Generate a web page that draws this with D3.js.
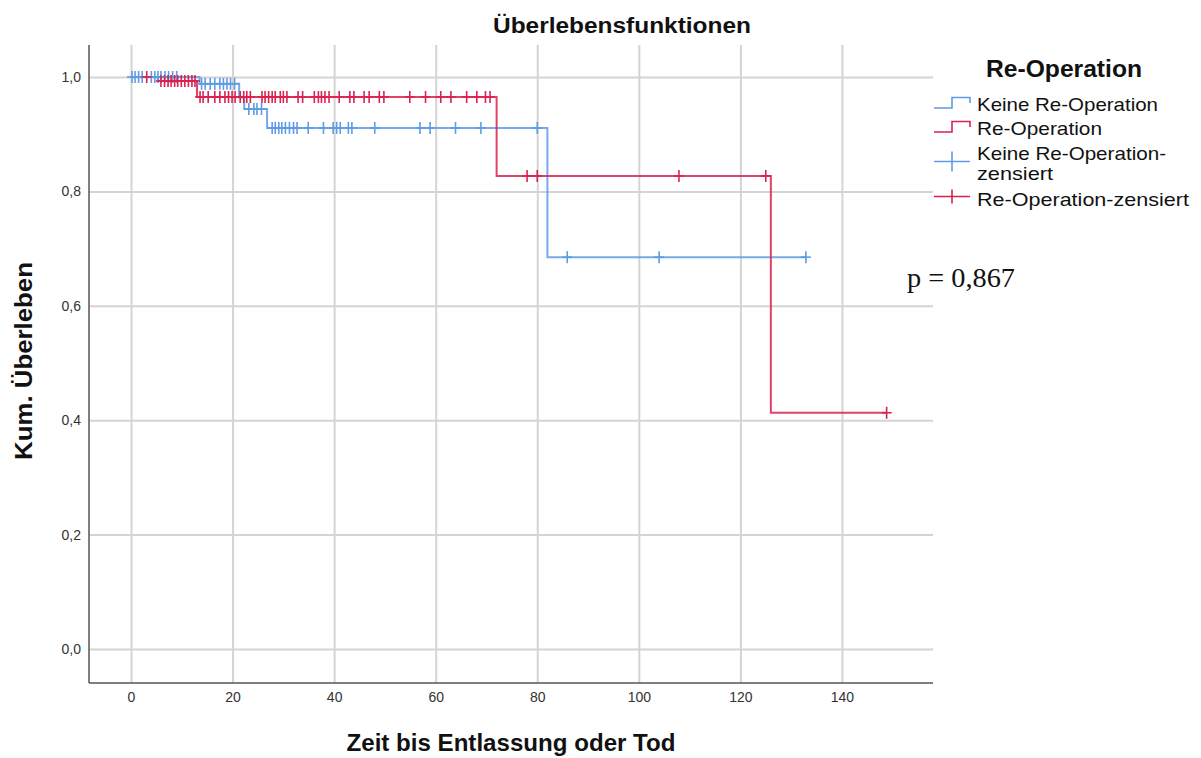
<!DOCTYPE html>
<html>
<head>
<meta charset="utf-8">
<script src="https://cdn.jsdelivr.net/npm/d3@7"></script>
<style>
  html, body { margin: 0; padding: 0; background: #fff; }
  svg { display: block; font-family: "Liberation Sans", Arial, sans-serif; }
</style>
</head>
<body>
<svg id="chart" width="1201" height="758"></svg>
<script>
// Kaplan-Meier step functions: time of each step and the survival level from that time on
const groups = ["Keine Re-Operation", "Re-Operation"];

const blueStepTimes = [0, 13.5, 21.3, 22.3, 26.8, 82.0];
const blueStepSurv  = [1.0, 0.988, 0.964, 0.944, 0.911, 0.685];
const blueCensored  = [0.2, 0.8, 1.5, 2.2, 4.0, 4.7, 5.3, 5.9, 6.7, 7.4, 8.2, 9.0,
                       13.9, 14.6, 15.6, 16.5, 17.5, 18.2, 18.9, 19.6, 20.4,
                       23.2, 24.2, 24.8, 25.7,
                       27.8, 28.4, 29.1, 29.7, 30.4, 31.2, 32.0, 32.7, 34.9, 37.9, 39.8,
                       40.5, 41.2, 42.8, 43.5, 48.0, 56.9, 58.9, 63.9, 68.9, 80.0,
                       85.9, 104.0, 132.9];

const redStepTimes = [0, 5.3, 13.0, 72.0, 126.0];
const redStepSurv  = [1.0, 0.993, 0.965, 0.827, 0.413];
const redCensored  = [3.1,
                      5.9, 6.6, 7.3, 7.9, 8.6, 9.2, 9.9, 10.6, 11.3, 12.0, 12.6,
                      13.6, 14.2, 15.2, 16.5, 17.5, 18.5, 19.2, 19.9, 20.5, 21.5, 22.2,
                      22.8, 23.5, 25.8, 26.4, 27.1, 27.8, 28.4, 29.4, 30.0, 30.7, 32.9,
                      33.8, 36.1, 36.9, 37.5, 38.2, 39.0, 41.0, 43.1, 43.9, 45.9, 46.9,
                      48.9, 49.8, 54.9, 58.0, 61.0, 63.0, 66.1, 68.1, 69.8, 70.7,
                      78.0, 80.0, 107.9, 125.0, 148.8];

const xTicks = [0, 20, 40, 60, 80, 100, 120, 140];
const yTicks = [0, 0.2, 0.4, 0.6, 0.8, 1.0];
const legendLabels = ["Keine Re-Operation", "Re-Operation", "Keine Re-Operation-zensiert", "Re-Operation-zensiert"];

const BLUE = "#5f9be6";
const RED = "#d9224f";

const svg = d3.select("#chart");
const plot = { left: 89, right: 933, top: 45, bottom: 683 };

const x = d3.scaleLinear().domain([-8.27, 157.93]).range([plot.left, plot.right]);
const y = d3.scaleLinear().domain([-0.0594, 1.0559]).range([plot.bottom, plot.top]);

const de = d3.formatLocale({ decimal: ",", thousands: ".", grouping: [3], currency: ["", " €"] });
const fmtY = de.format(".1f");

// grid lines
const gridColor = "#d4d4d4";
const gx = svg.append("g")
  .attr("transform", `translate(0,${plot.bottom})`)
  .call(d3.axisBottom(x).tickValues(xTicks).tickSize(-(plot.bottom - plot.top)).tickFormat(""));
gx.select(".domain").remove();
gx.selectAll("line").attr("stroke", gridColor).attr("stroke-width", 2);

const gy = svg.append("g")
  .attr("transform", `translate(${plot.left},0)`)
  .call(d3.axisLeft(y).tickValues(yTicks).tickSize(-(plot.right - plot.left)).tickFormat(""));
gy.select(".domain").remove();
gy.selectAll("line").attr("stroke", gridColor).attr("stroke-width", 2);

// axes with labels
const ax = svg.append("g")
  .attr("transform", `translate(0,${plot.bottom})`)
  .call(d3.axisBottom(x).tickValues(xTicks).tickSize(0).tickPadding(9).tickFormat(d3.format("d")));
ax.select(".domain").remove();
ax.selectAll("text").attr("font-size", 14).attr("fill", "#333")
  .attr("font-family", "'Liberation Sans', Arial, sans-serif");

const ay = svg.append("g")
  .attr("transform", `translate(${plot.left},0)`)
  .call(d3.axisLeft(y).tickValues(yTicks).tickSize(0).tickPadding(8).tickFormat(fmtY));
ay.select(".domain").remove();
ay.selectAll("text").attr("font-size", 14).attr("fill", "#333")
  .attr("font-family", "'Liberation Sans', Arial, sans-serif");

// axis lines
svg.append("line").attr("x1", plot.left).attr("x2", plot.left)
  .attr("y1", plot.top).attr("y2", plot.bottom)
  .attr("stroke", "#555").attr("stroke-width", 1.5);
svg.append("line").attr("x1", plot.left).attr("x2", plot.right)
  .attr("y1", plot.bottom).attr("y2", plot.bottom)
  .attr("stroke", "#555").attr("stroke-width", 1.5);

// survival curves
function survAt(times, surv, t) {
  let s = surv[0];
  for (let i = 0; i < times.length; i++) if (t >= times[i]) s = surv[i];
  return s;
}
function stepPoints(times, surv, tEnd) {
  const pts = times.map((t, i) => [t, surv[i]]);
  pts.push([tEnd, surv[surv.length - 1]]);
  return pts;
}
const stepLine = d3.line().x(d => x(d[0])).y(d => y(d[1])).curve(d3.curveStepAfter);

const series = [
  { times: blueStepTimes, surv: blueStepSurv, cens: blueCensored, color: BLUE },
  { times: redStepTimes, surv: redStepSurv, cens: redCensored, color: RED }
];

series.forEach(s => {
  const tEnd = d3.max(s.cens);
  svg.append("path")
    .datum(stepPoints(s.times, s.surv, tEnd))
    .attr("d", stepLine)
    .attr("fill", "none")
    .attr("stroke", s.color)
    .attr("stroke-width", 2)
    .attr("stroke-opacity", 0.85);
});

series.forEach(s => {
  const g = svg.append("g").attr("stroke", s.color).attr("stroke-width", 1.6);
  s.cens.forEach(t => {
    const cx = x(t), cy = y(survAt(s.times, s.surv, t));
    g.append("line").attr("x1", cx).attr("x2", cx).attr("y1", cy - 6).attr("y2", cy + 6);
    g.append("line").attr("x1", cx - 5).attr("x2", cx + 5).attr("y1", cy).attr("y2", cy);
  });
});

// titles
svg.append("text").attr("x", 622).attr("y", 33).attr("text-anchor", "middle")
  .attr("font-size", 22).attr("font-weight", "bold").attr("fill", "#111")
  .attr("textLength", 258).attr("lengthAdjust", "spacingAndGlyphs")
  .text("Überlebensfunktionen");

svg.append("text").attr("x", 511).attr("y", 751).attr("text-anchor", "middle")
  .attr("font-size", 24).attr("font-weight", "bold").attr("fill", "#111")
  .attr("textLength", 329).attr("lengthAdjust", "spacingAndGlyphs")
  .text("Zeit bis Entlassung oder Tod");

svg.append("text").attr("transform", "translate(32,361) rotate(-90)")
  .attr("text-anchor", "middle")
  .attr("font-size", 24).attr("font-weight", "bold").attr("fill", "#111")
  .attr("textLength", 198).attr("lengthAdjust", "spacingAndGlyphs")
  .text("Kum. Überleben");

// legend
const lg = svg.append("g");
lg.append("text").attr("x", 986).attr("y", 77)
  .attr("font-size", 24).attr("font-weight", "bold").attr("fill", "#111")
  .attr("textLength", 156).attr("lengthAdjust", "spacingAndGlyphs")
  .text("Re-Operation");

const lx0 = 934, lx1 = 952, lx2 = 970;
[[BLUE, 108], [RED, 132]].forEach(([c, yl]) => {
  lg.append("path")
    .attr("d", `M${lx0},${yl} H${lx1} V${yl - 10.5} H${lx2} V${yl - 5}`)
    .attr("fill", "none").attr("stroke", c).attr("stroke-width", 1.6);
});
[[BLUE, 161.5, 10], [RED, 196.5, 7]].forEach(([c, yl, h]) => {
  lg.append("line").attr("x1", lx0).attr("x2", lx2).attr("y1", yl).attr("y2", yl)
    .attr("stroke", c).attr("stroke-width", 1.6);
  lg.append("line").attr("x1", lx1).attr("x2", lx1).attr("y1", yl - h).attr("y2", yl + h)
    .attr("stroke", c).attr("stroke-width", 1.6);
});

const legText = [
  { t: legendLabels[0], y: 111, w: 181 },
  { t: legendLabels[1], y: 135, w: 125 },
  { t: "Keine Re-Operation-", y: 160, w: 189 },
  { t: "zensiert", y: 180, w: 76 },
  { t: legendLabels[3], y: 206, w: 212 }
];
legText.forEach(d => {
  lg.append("text").attr("x", 977).attr("y", d.y)
    .attr("font-size", 19).attr("fill", "#111")
    .attr("textLength", d.w).attr("lengthAdjust", "spacingAndGlyphs")
    .text(d.t);
});

// log-rank p-value
svg.append("text").attr("x", 907).attr("y", 287)
  .attr("font-family", "'Liberation Serif', 'Times New Roman', serif")
  .attr("font-size", 27).attr("fill", "#111")
  .attr("textLength", 108).attr("lengthAdjust", "spacingAndGlyphs")
  .text("p = 0,867");
</script>
</body>
</html>
